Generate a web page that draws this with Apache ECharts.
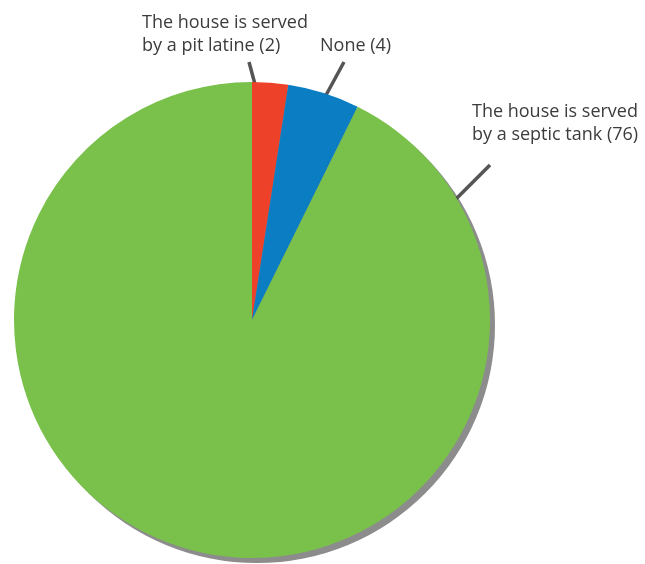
<!DOCTYPE html>
<html>
<head>
<meta charset="utf-8">
<script src="https://cdn.jsdelivr.net/npm/echarts@6/dist/echarts.min.js"></script>
<style>
  html, body { margin: 0; padding: 0; background: #fff; }
  #chart { width: 645px; height: 564px; }
</style>
</head>
<body>
<div id="chart"></div>
<script>
const categories = [
  'The house is served\nby a pit latine',
  'None',
  'The house is served\nby a septic tank'
]
const values = [2, 4, 76]
const colors = ['#ee4129', '#0b7dc3', '#79c14a']
// label anchor spots [x, y] and pointer lines [from, to]
const labelSpots = [
  [142, 11],
  [320, 34],
  [472, 100],
]
const pointerLines = [
  [[249, 62], [256, 88]],
  [[344, 62], [325, 97]],
  [[490, 165], [450, 205]],
]

const chart = echarts.init(document.getElementById('chart'))
const total = values.reduce((a, b) => a + b, 0)

chart.setOption({
  animation: false,
  series: [
    {
      // drop shadow disc
      type: 'pie',
      silent: true,
      center: [257, 325],
      radius: 238,
      label: { show: false },
      labelLine: { show: false },
      itemStyle: { color: '#8c8c8c' },
      data: [{ value: total, name: 'shadow' }],
      z: 1,
    },
    {
      type: 'pie',
      center: [252, 320],
      radius: 238,
      startAngle: 90,
      clockwise: true,
      z: 2,
      itemStyle: { borderWidth: 0 },
      label: {
        show: true,
        formatter: (p) => `${p.name} (${p.value})`,
        fontFamily: 'Open Sans',
        fontSize: 18,
        lineHeight: 23,
        color: '#3c3c3c',
      },
      labelLine: {
        show: true,
        length: 12,
        length2: 0,
        lineStyle: { color: '#555', width: 3.5 },
      },
      labelLayout: (params) => {
        const s = labelSpots[params.dataIndex]
        const l = pointerLines[params.dataIndex]
        const mid = [(l[0][0] + l[1][0]) / 2, (l[0][1] + l[1][1]) / 2]
        return {
          x: s[0], y: s[1], align: 'left', verticalAlign: 'top',
          labelLinePoints: [l[1], mid, l[0]],
        }
      },
      data: categories.map((c, i) => ({
        name: c,
        value: values[i],
        itemStyle: { color: colors[i] },
      })),
    },
  ],
})
</script>
</body>
</html>
